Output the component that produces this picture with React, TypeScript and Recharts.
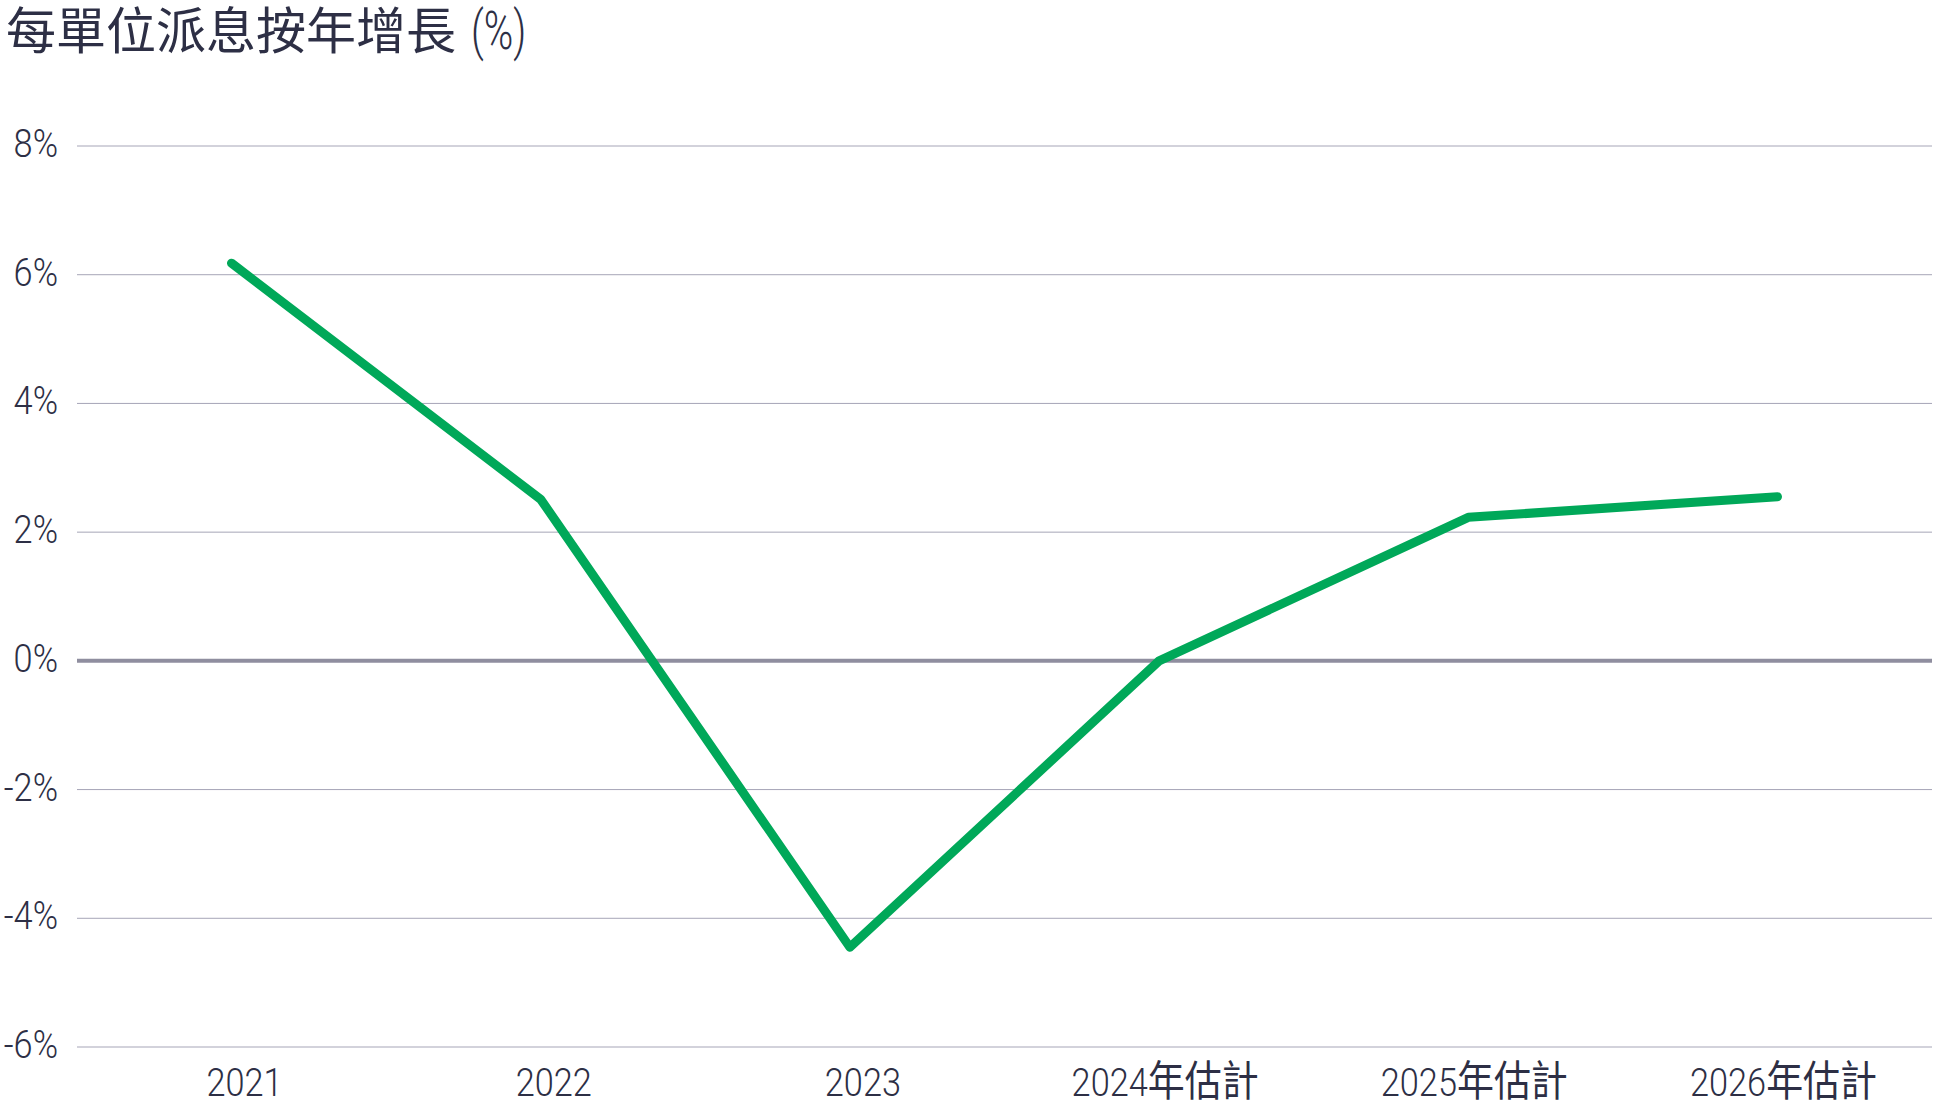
import { LineChart, Line, XAxis, YAxis, CartesianGrid, ReferenceLine } from 'recharts';

const years = ['2021', '2022', '2023', '2024年估計', '2025年估計', '2026年估計'];
const growth = [6.18, 2.51, -4.45, 0, 2.23, 2.55];
const yTicks = [-6, -4, -2, 0, 2, 4, 6, 8];

const data = years.map((year, i) => ({ year, growth: growth[i] }));

const TEXT = '#2d2f45';
const LATIN = "Roboto, 'Noto Sans', sans-serif";
const CJK = "'Noto Sans CJK TC', sans-serif";
const SQUEEZE = 0.88; // the original uses a condensed face

const YearTick = ({ x, y, payload }: any) => {
  const label: string = payload.value;
  const digits = label.slice(0, 4);
  const rest = label.slice(4);
  // the estimate labels sit a little closer to the point than the plain years
  const shift = rest ? 6 : 13;
  return (
    <g transform={`translate(${x + shift},${y}) scale(${SQUEEZE},1)`}>
      <text x={0} y={0} dy="0.71em" textAnchor="middle" fill={TEXT} fontSize={39} fontWeight={300} fontFamily={LATIN}>
        <tspan>{digits}</tspan>
        {rest && <tspan fontFamily={CJK} fontSize={42} fontWeight={400}>{rest}</tspan>}
      </text>
    </g>
  );
};

const PctTick = ({ x, y, payload }: any) => (
  <g transform={`translate(${x},${y}) scale(${SQUEEZE},1)`}>
    <text x={0} y={0} dy="0.28em" textAnchor="end" fill={TEXT} fontSize={39} fontWeight={300} fontFamily={LATIN}>
      {`${payload.value}%`}
    </text>
  </g>
);

export default function App() {
  return (
    <div style={{ position: 'absolute', left: 0, top: 0, width: 1938, height: 1120, background: '#fff' }}>
      <LineChart width={1938} height={1120} data={data} margin={{ top: 146, right: 6, left: 0, bottom: 13 }}>
        <CartesianGrid vertical={false} stroke="#a6a5b7" strokeWidth={1} />
        <XAxis dataKey="year" axisLine={false} tickLine={false} tickSize={0} tickMargin={21} height={60}
          padding={{ left: 154.5, right: 154.5 }} interval={0} tick={<YearTick />} />
        <YAxis domain={[-6, 8]} ticks={yTicks} width={77} axisLine={false} tickLine={false} tickSize={0} tickMargin={19}
          tick={<PctTick />} />
        <ReferenceLine y={0} stroke="#8f8e9f" strokeWidth={4} />
        <Line type="linear" dataKey="growth" stroke="#00a859" strokeWidth={9} dot={false} activeDot={false}
          strokeLinecap="round" strokeLinejoin="round" isAnimationActive={false} />
      </LineChart>
      <svg width={640} height={72} style={{ position: 'absolute', left: 0, top: 0 }}>
        <text x={6} y={49} fill={TEXT} fontSize={50} fontFamily={CJK}>每單位派息按年增長</text>
        <g transform="translate(471,49) scale(0.74,1)">
          <text x={0} y={0} fill={TEXT} fontSize={54} fontWeight={300} fontFamily={LATIN}>(%)</text>
        </g>
      </svg>
    </div>
  );
}
